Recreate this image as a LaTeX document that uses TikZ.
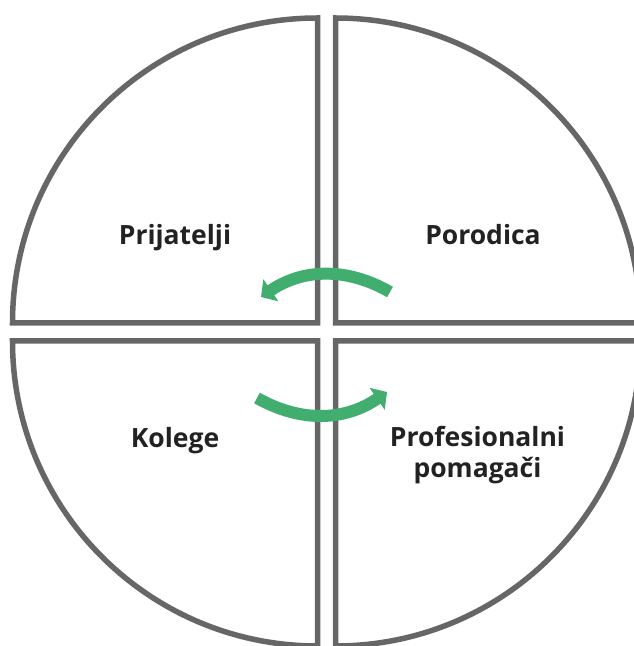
\documentclass[tikz,border=0pt]{standalone}
\usepackage{fontspec}
\setmainfont{Open Sans}
\usetikzlibrary{arrows.meta}
\definecolor{quadgray}{HTML}{666666}
\definecolor{cyclegreen}{HTML}{41AE6F}
\definecolor{labelblack}{HTML}{222222}

\begin{document}
\begin{tikzpicture}[
    x=1pt, y=1pt,
    quadrant/.style={draw=quadgray, line width=5.5pt, line join=miter},
    label/.style={font=\fontsize{26.5}{31}\selectfont\bfseries, text=labelblack,
        anchor=base, align=center, inner sep=0pt},
    cyclearrow/.style={draw=cyclegreen, line width=12pt,
        -{Triangle[length=12pt, width=26pt]}},
]
\useasboundingbox (0,0) rectangle (634,646);
\clip (0,0) rectangle (634,646);

% Quadrants
\draw[quadrant] (317.5,323) -- ++(-305,0) arc[start angle=180, end angle=90, radius=305pt] -- cycle;
\draw[quadrant] (335.5,323) -- ++(0,305) arc[start angle=90, end angle=0, radius=305pt] -- cycle;
\draw[quadrant] (317.5,305) -- ++(-305,0) arc[start angle=180, end angle=270, radius=305pt] -- cycle;
\draw[quadrant] (335.5,305) -- ++(305,0) arc[start angle=0, end angle=-90, radius=305pt] -- cycle;

% Labels
\node[label] (prijatelji) at (175,401) {Prijatelji};
\node[label] (porodica) at (483,401) {Porodica};
\node[label] (kolege) at (175,198) {Kolege};
\node[label] (pomagaci) at (477.5,168) {Profesionalni\\pomagači};

% Arrows
\coordinate (topstart) at (390,354);
\coordinate (toptip) at (261,349);
\coordinate (botstart) at (257,248);
\coordinate (bottip) at (387,254);
\draw[cyclearrow] (topstart) to[bend right=32] (toptip);
\draw[cyclearrow] (botstart) to[bend right=32] (bottip);

\end{tikzpicture}
\end{document}
